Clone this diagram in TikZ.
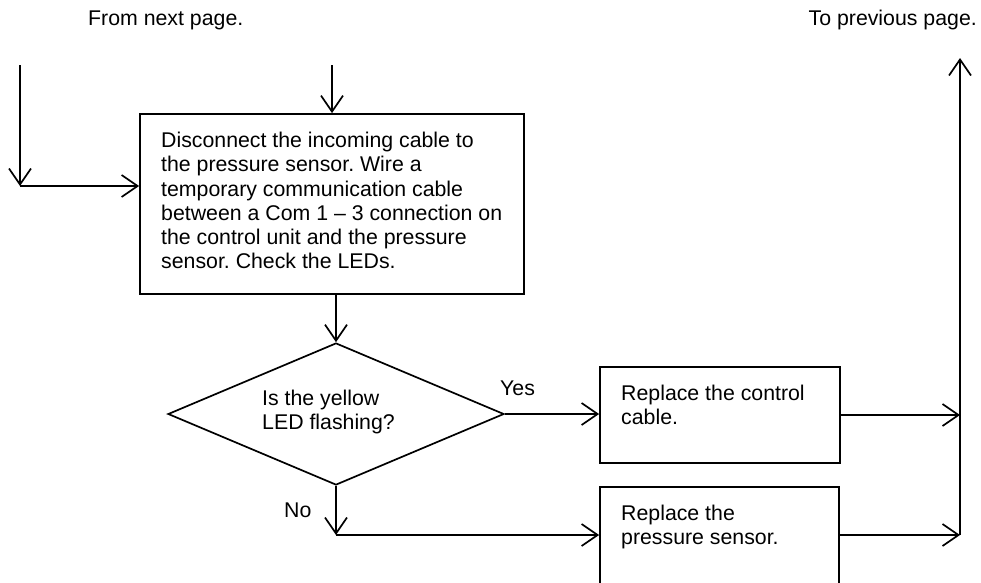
\documentclass[tikz,border=0pt]{standalone}
\usepackage{fontspec}
\setmainfont{Liberation Sans}
\usetikzlibrary{arrows.meta,shapes.geometric}
\frenchspacing
\begin{document}
\begin{tikzpicture}[x=1pt,y=-1pt,
  every node/.style={font=\fontsize{21.3}{24.2}\selectfont},
  box/.style={draw,line width=1.8pt,rectangle,inner sep=0pt},
  txt/.style={inner sep=0pt,align=left},
  arr/.style={line width=1.7pt,-{Straight Barb[length=16pt,width=22pt,line width=1.7pt]}}]
\useasboundingbox (0,0) rectangle (981,582);
\clip (0,0) rectangle (981,582);
% labels
\node[txt,anchor=base west] (fromtxt) at (88,25) {From next page.};
\node[txt,anchor=base east] (totxt) at (977,25) {To previous page.};
% boxes
\node[box,minimum width=384pt,minimum height=180pt] (box1) at (332,204) {};
\node[txt,anchor=north west] (box1t) at (161,132) {Disconnect the incoming cable to\\the pressure sensor. Wire a\\temporary communication cable\\between a Com 1 -- 3 connection on\\the control unit and the pressure\\sensor. Check the LEDs.};
\node[draw,diamond,line width=1.7pt,inner sep=0pt,minimum width=336pt,minimum height=142pt] (dia) at (336,414) {};
\node[txt,anchor=north west] (diat) at (262,390) {Is the yellow\\LED flashing?};
\node[box,minimum width=240pt,minimum height=96pt] (box2) at (720,415) {};
\node[txt,anchor=north west] (box2t) at (621,385) {Replace the control\\cable.};
\node[box,minimum width=239pt,minimum height=113pt] (box3) at (719.5,543.5) {};
\node[txt,anchor=north west] (box3t) at (621,505) {Replace the\\pressure sensor.};
\node[txt,anchor=base west] (yes) at (500,395) {Yes};
\node[txt,anchor=base west] (no) at (284,517) {No};
% coordinates
\coordinate (L1) at (20,65);
\coordinate (L2) at (20,186);
\coordinate (T1) at (332,65);
\coordinate (N1) at (336,535);
\coordinate (R1) at (960,415);
\coordinate (R2) at (960,535);
\coordinate (RT) at (960,58);
% connectors
\draw[arr] (L1) -- (L2);
\draw[arr] (L2) -- (L2 -| box1.west);
\draw[arr] (T1) -- (box1.north);
\draw[arr] (box1.south -| dia.north) -- (dia.north);
\draw[arr] (dia.east) -- (dia.east -| box2.west);
\draw[arr] (dia.south) -- (N1);
\draw[arr] (N1) -- (N1 -| box3.west);
\draw[arr] (box2.east) -- (R1);
\draw[arr] (R2 -| box3.east) -- (R2);
\draw[arr] (R2) -- (RT);
\end{tikzpicture}
\end{document}
